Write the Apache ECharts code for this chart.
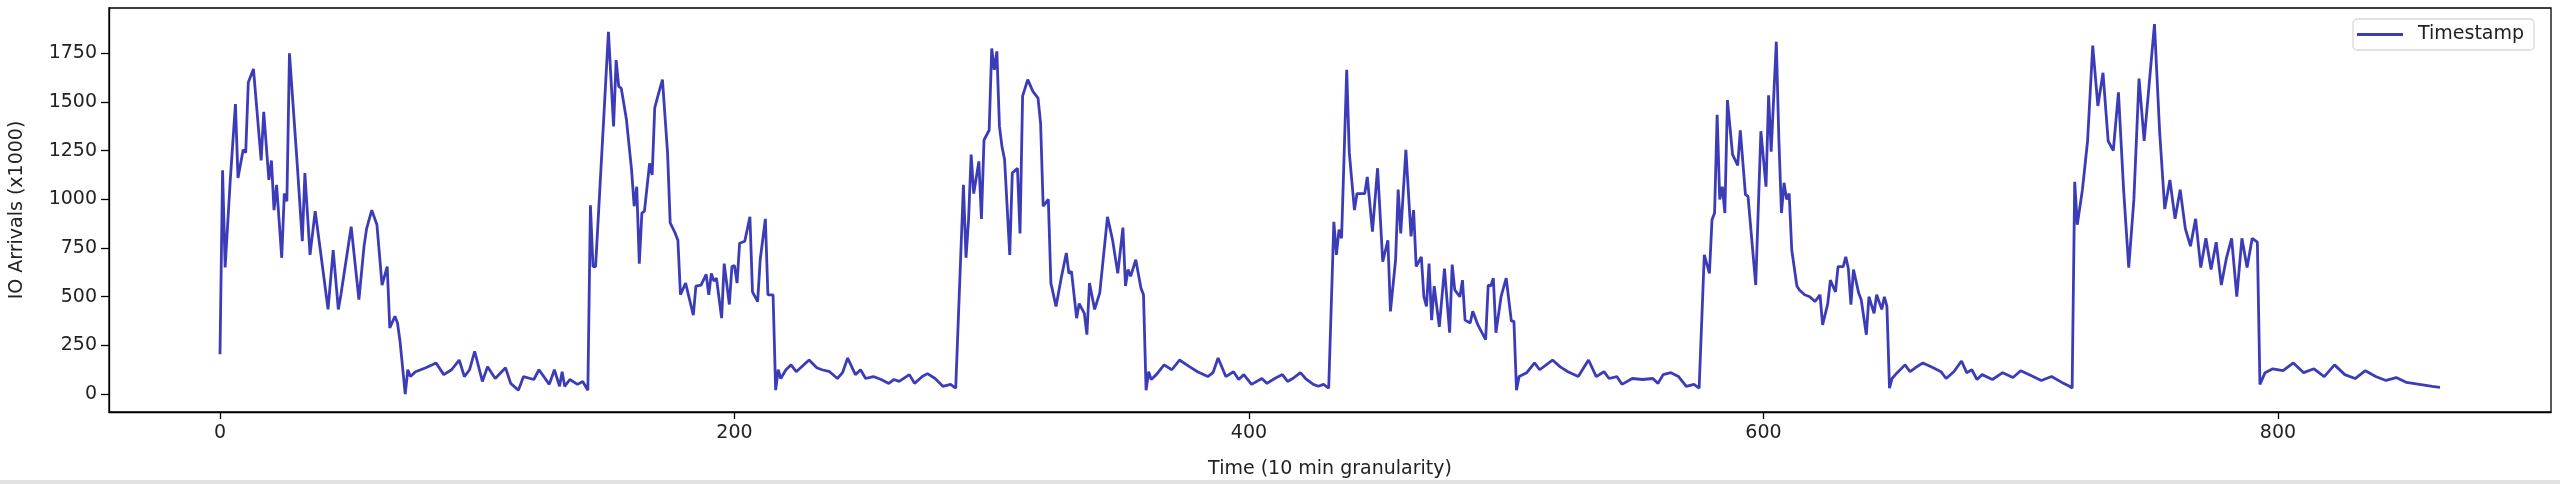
<!DOCTYPE html>
<html>
<head>
<meta charset="utf-8">
<script src="https://cdn.jsdelivr.net/npm/echarts@6/dist/echarts.min.js"></script>
<style>
html,body{margin:0;padding:0;background:#fff;}
#c{width:2560px;height:484px;}
</style>
</head>
<body>
<div id="c"></div>
<script>
// time index (10-min steps) of each read vertex
const timeIdx = [
0,1,2,4,6,7,9,10,11,13,16,17,19,20,21,22,24,25,26,27,30,32,33,35,37,39,42,44,46,47,51,54,56,57,59,61,63,65,66,68,69,70,72,73,74,76,80,84,87,90,93,95,97,99,102,104,107,111,113,116,118,122,124,128,130,132,133,134,136,139,141,143,
144,145,146,149,151,153,154,155,156,158,160,161,162,163,164,165,167,168,169,170,172,174,175,177,178,179,181,184,185,187,189,190,191,192,193,195,196,198,199,200,201,202,204,206,207,209,210,212,213,215,216,217,218,220,222,224,229,232,234,237,240,242,244,247,249,251,254,257,260,262,264,268,270,273,275,278,281,284,286,
289,290,291,292,293,295,296,297,299,300,301,302,303,304,305,307,308,310,311,312,314,316,318,319,320,322,323,325,327,329,330,331,333,334,336,337,338,340,342,345,347,349,351,352,353,354,356,358,359,360,361,362,364,367,370,373,377,380,384,386,388,391,394,396,398,401,405,407,410,413,415,417,420,422,425,427,429,431,
433,434,435,436,438,439,441,442,445,446,448,450,452,454,455,457,458,459,461,463,464,465,467,468,469,470,471,472,474,476,478,479,480,482,483,484,486,487,489,490,492,493,494,495,496,498,500,502,503,504,505,508,511,513,518,521,524,528,532,535,538,540,543,545,549,553,557,559,561,564,567,570,573,575,
577,579,580,581,582,583,584,585,586,588,590,591,593,594,597,599,601,602,603,605,606,607,608,609,610,611,613,614,616,618,620,622,623,625,626,628,629,631,632,633,634,635,637,638,640,641,643,644,646,647,648,649,650,652,655,657,659,662,666,669,671,674,677,679,681,683,685,689,
693,697,700,704,708,712,716,719,720,721,722,724,726,728,730,732,734,736,738,740,742,744,746,748,750,752,754,756,758,760,762,764,766,768,770,772,774,776,778,780,782,784,786,788,790,792,793,795,798,802,806,810,814,818,822,826,830,834,838,842,846,850,855,860,863
];
// IO arrivals (x1000) at each vertex
const arrivals = [
205,1150,650,1100,1490,1110,1255,1240,1600,1670,1200,1450,1100,1200,945,1075,700,1030,990,1750,1185,785,1135,715,940,740,435,740,435,510,860,485,760,850,945,870,560,655,340,400,365,270,0,125,90,115,135,160,100,125,175,90,125,220,65,140,80,135,55,20,90,75,125,50,125,40,115,40,75,50,65,20,
970,655,655,1375,1860,1375,1715,1580,1570,1410,1150,965,1065,670,930,940,1185,1125,1470,1520,1615,1235,880,825,790,510,570,405,555,560,615,510,620,580,595,390,670,460,655,660,570,775,785,910,525,475,690,900,510,510,20,125,80,125,150,115,175,135,125,115,80,110,185,100,125,80,90,75,55,75,65,100,55,90,105,80,40,50,30,
1075,700,895,1230,1030,1195,900,1305,1355,1775,1665,1760,1375,1270,1205,715,1135,1160,825,1530,1615,1555,1520,1390,965,1000,570,450,595,725,620,630,390,465,415,305,570,435,520,910,790,620,855,555,640,605,690,545,510,20,115,75,100,150,125,175,140,115,90,110,185,90,115,75,100,50,80,55,80,100,65,80,110,80,50,40,50,30,
885,715,845,800,1665,1240,945,1030,1030,1115,835,1160,680,790,425,690,1050,825,1255,810,945,655,705,500,450,670,380,555,345,645,315,665,535,500,585,380,365,425,355,330,280,560,555,595,315,500,595,375,375,20,90,110,160,125,175,140,115,90,175,90,115,80,90,50,80,75,80,55,100,110,90,40,50,30,
715,620,895,930,1435,1000,1065,930,1510,1230,1175,1355,1025,1015,560,1350,1065,1535,1245,1810,1305,930,1085,1000,1030,740,555,535,510,500,475,510,355,465,585,525,655,655,705,645,460,640,520,485,305,500,415,510,435,500,450,30,80,110,150,115,135,160,135,115,80,115,170,110,125,75,100,75,
110,85,120,95,70,90,60,40,30,1090,870,1050,1300,1790,1480,1650,1300,1250,1550,1050,650,1000,1620,1300,1600,1900,1350,950,1100,900,1050,850,760,900,650,800,640,780,560,700,800,500,800,650,800,780,50,110,130,120,160,110,130,90,150,100,80,120,90,70,85,60,50,40,35
];
const xTicks = [0,200,400,600,800];
const yTicks = [0,250,500,750,1000,1250,1500,1750];

const pts = timeIdx.map((t,i)=>[t, arrivals[i]]);
const chart = echarts.init(document.getElementById('c'), null, {renderer:'canvas'});
const font = 'DejaVu Sans';
const plain = v => String(v);
chart.setOption({
  animation:false,
  backgroundColor:'#fff',
  grid:{left:107,right:9,top:8,bottom:72,show:true,borderColor:'#000',borderWidth:1.3,backgroundColor:'transparent'},
  xAxis:{
    type:'value',min:-43.15,max:906.15,
    name:'Time (10 min granularity)',nameLocation:'middle',nameGap:48,
    nameTextStyle:{fontFamily:font,fontSize:19,color:'#222'},
    axisLine:{show:true,onZero:false,lineStyle:{color:'#000',width:1.3}},
    axisTick:{show:true,inside:false,length:7,customValues:xTicks,lineStyle:{color:'#000',width:1.3}},
    axisLabel:{customValues:xTicks,formatter:plain,fontFamily:font,fontSize:19,color:'#222',margin:12},
    splitLine:{show:false}
  },
  yAxis:{
    type:'value',min:-92,max:1983,
    name:'IO Arrivals (x1000)',nameLocation:'middle',nameGap:82,nameRotate:90,
    nameTextStyle:{fontFamily:font,fontSize:19,color:'#222'},
    axisLine:{show:true,onZero:false,lineStyle:{color:'#000',width:1.3}},
    axisTick:{show:true,inside:false,length:8,customValues:yTicks,lineStyle:{color:'#000',width:1.3}},
    axisLabel:{customValues:yTicks,formatter:plain,fontFamily:font,fontSize:19,color:'#222',margin:12},
    splitLine:{show:false}
  },
  legend:{
    show:true,left:2353,top:19,
    padding:[6,10,6,4],
    backgroundColor:'#fff',borderColor:'#d8d8d8',borderWidth:1.3,borderRadius:4,
    icon:'rect',itemWidth:46,itemHeight:3,
    textStyle:{fontFamily:font,fontSize:19,color:'#222',padding:[0,0,0,10]},
    data:['Timestamp']
  },
  series:[{
    name:'Timestamp',type:'line',data:pts,showSymbol:false,
    lineStyle:{color:'#3c3cb8',width:2.8},itemStyle:{color:'#3c3cb8'}
  }],
  graphic:[{type:'rect',shape:{x:0,y:480,width:2560,height:4},style:{fill:'#e2e2e2'}}]
});
</script>
</body>
</html>
